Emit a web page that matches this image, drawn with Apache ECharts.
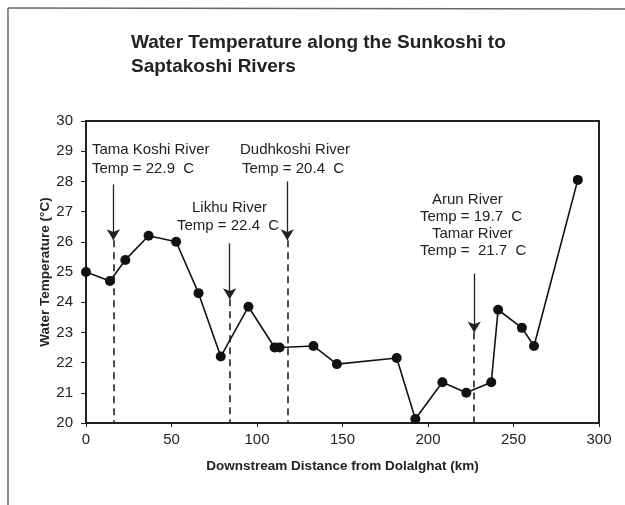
<!DOCTYPE html>
<html>
<head>
<meta charset="utf-8">
<script src="https://cdn.jsdelivr.net/npm/echarts@6/dist/echarts.min.js"></script>
<style>
html, body { margin: 0; padding: 0; background: #fff; }
#chart { width: 625px; height: 505px; }
</style>
</head>
<body>
<div id="chart"></div>
<script>
// distance downstream (km) and water temperature (°C)
const distance = [0, 14, 23, 36.6, 52.7, 65.8, 78.8, 95, 110.3, 113.2, 133, 146.7, 181.7, 192.6, 208.4, 222.4, 237, 241, 254.9, 262, 287.6];
const temperature = [25.0, 24.7, 25.4, 26.2, 26.0, 24.3, 22.2, 23.85, 22.5, 22.5, 22.55, 21.95, 22.15, 20.13, 21.35, 21.0, 21.35, 23.75, 23.15, 22.55, 28.05];

// tributary confluences: x position, arrow start/end temperature on the chart
const tribX = [16, 84, 117.7, 227];
const arrowTop = [27.9, 25.95, 28.0, 24.95];
const arrowEnd = [26.05, 24.1, 26.05, 23.0];

const chart = echarts.init(document.getElementById('chart'));
const font = 'Arial, "Liberation Sans", sans-serif';

let arrowLines = [];
let dashLines = [];
for (let i = 0; i < tribX.length; i++) {
    arrowLines.push([{ coord: [tribX[i], arrowTop[i]] }, { coord: [tribX[i], arrowEnd[i]] }]);
    dashLines.push([{ coord: [tribX[i], arrowEnd[i]] }, { coord: [tribX[i], 20] }]);
}

const txt = (left, top, text) => ({
    type: 'text', left: left, top: top,
    style: { text: text, font: '15px ' + font, fill: '#222' }
});

chart.setOption({
    animation: false,
    backgroundColor: '#fff',
    grid: { left: 86, right: 26, top: 121, bottom: 82 },
    xAxis: {
        type: 'value', min: 0, max: 300, interval: 50,
        name: 'Downstream Distance from Dolalghat (km)',
        nameLocation: 'middle', nameGap: 36,
        nameTextStyle: { fontFamily: font, fontWeight: 'bold', fontSize: 13.5, color: '#222' },
        axisLine: { lineStyle: { color: '#222', width: 2 } },
        axisTick: { show: true, length: 4, lineStyle: { color: '#222' } },
        axisLabel: { fontFamily: font, fontSize: 15, color: '#222', margin: 9 },
        splitLine: { show: false }
    },
    yAxis: {
        type: 'value', min: 20, max: 30, interval: 1,
        name: 'Water Temperature (°C)',
        nameLocation: 'middle', nameGap: 34, nameMoveOverlap: false,
        nameTextStyle: { fontFamily: font, fontWeight: 'bold', fontSize: 13.5, color: '#222' },
        axisLine: { show: true, lineStyle: { color: '#222', width: 2 } },
        axisTick: { show: true, length: 5, lineStyle: { color: '#222' } },
        axisLabel: { fontFamily: font, fontSize: 15, color: '#222', margin: 13 },
        splitLine: { show: false }
    },
    graphic: [
        { type: 'line', shape: { x1: 8, y1: 8, x2: 625, y2: 9 }, style: { stroke: '#666', lineWidth: 1.5 } },
        { type: 'line', shape: { x1: 8, y1: 8, x2: 8, y2: 505 }, style: { stroke: '#666', lineWidth: 1.5 } },
        { type: 'rect', shape: { x: 86, y: 121, width: 513, height: 302 }, style: { fill: 'none', stroke: '#222', lineWidth: 2 }, z: 1 },
        {
            type: 'text', left: 131, top: 31,
            style: { text: 'Water Temperature along the Sunkoshi to\nSaptakoshi Rivers', font: 'bold 19px ' + font, fill: '#222', lineHeight: 24 }
        },
        txt(92, 142, 'Tama Koshi River'),
        txt(92, 161, 'Temp = 22.9  C'),
        txt(240, 142, 'Dudhkoshi River'),
        txt(242, 161, 'Temp = 20.4  C'),
        txt(192, 200, 'Likhu River'),
        txt(177, 218, 'Temp = 22.4  C'),
        txt(432, 192, 'Arun River'),
        txt(420, 209, 'Temp = 19.7  C'),
        txt(432, 226, 'Tamar River'),
        txt(420, 243, 'Temp =  21.7  C')
    ],
    series: [{
        type: 'line',
        data: distance.map((d, i) => [d, temperature[i]]),
        symbol: 'circle',
        symbolSize: 10,
        itemStyle: { color: '#111' },
        lineStyle: { color: '#111', width: 1.6 },
        z: 5
    }, {
        type: 'line',
        data: [],
        markLine: {
            silent: true,
            symbol: ['none', 'arrow'],
            symbolSize: [10, 11],
            label: { show: false },
            lineStyle: { color: '#222', width: 1.3, type: 'solid' },
            data: arrowLines
        }
    }, {
        type: 'line',
        data: [],
        markLine: {
            silent: true,
            symbol: ['none', 'none'],
            label: { show: false },
            lineStyle: { color: '#222', width: 1.6, type: [7, 5] },
            data: dashLines
        }
    }]
});
</script>
</body>
</html>
